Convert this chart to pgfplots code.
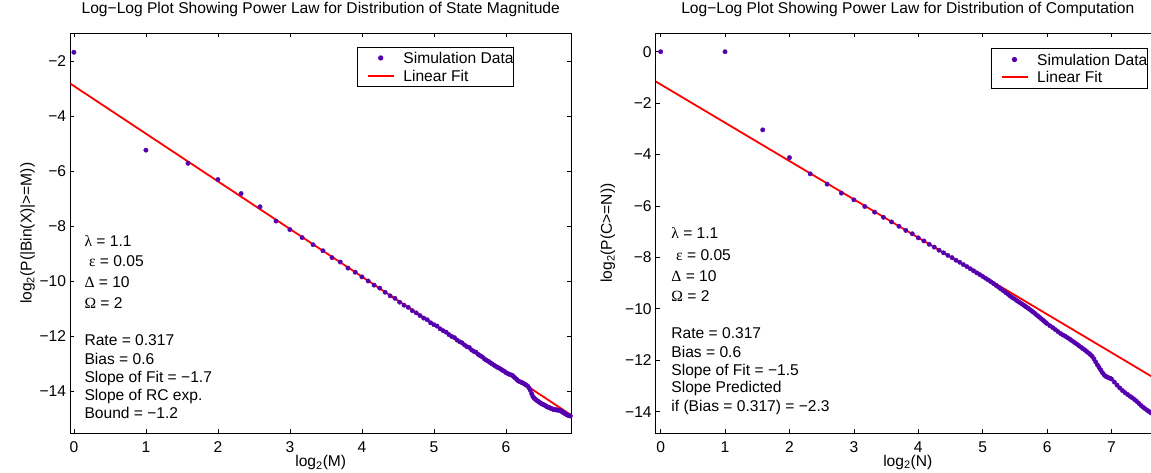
\documentclass[border=0pt]{standalone}
\usepackage{fontspec}
\setmainfont{Liberation Sans}
\newfontfamily\grk{Liberation Serif}
\usepackage{pgfplots}
\pgfplotsset{compat=1.18}
\definecolor{purp}{RGB}{85,0,175}
\definecolor{fitred}{RGB}{255,0,0}
\newcommand{\fs}{\fontsize{15.6}{18}\selectfont}
\pgfplotsset{mstyle/.style={
  scale only axis,
  axis line style={line width=0.9pt, black},
  every tick/.style={black, line width=0.7pt},
  major tick length=4pt,
  tick align=inside,
  xtick pos=both, ytick pos=both,
  xticklabel pos=lower, yticklabel pos=left,
  ticklabel style={font=\fs, inner sep=0pt},
  xticklabel style={yshift=-8.4pt},
  yticklabel style={xshift=-4pt},
  label style={font=\fs, inner sep=0pt},
  title style={font=\fs, inner sep=0pt, at={([yshift=10pt]axis description cs:0.5,1)}, anchor=south},
  xlabel style={at={([yshift=-21.7pt]axis description cs:0.5,0)}, anchor=north},
  legend style={draw=black, line width=0.8pt, inner xsep=0pt, inner ysep=2pt, font=\fs,
    nodes={inner sep=0pt, text height=14.45pt, text depth=3.25pt}, row sep=0pt},
  legend cell align=left,
  clip=true,
}}
\pgfplotsset{
  dotimg/.style={legend image code/.code={\path (0pt,0pt) (44.3pt,0pt);
     \draw[mark repeat=2,mark phase=2,##1] plot coordinates {(0pt,0pt) (22.5pt,0pt) (44pt,0pt)};}},
  lineimg/.style={legend image code/.code={\path (0pt,0pt) (44.3pt,0pt);
     \draw[##1] (10pt,0pt) -- (35.8pt,0pt);}},
}
\begin{document}
\begin{tikzpicture}
% ---------------- left axis ----------------
\begin{axis}[mstyle,
  at={(70.3pt,38.7pt)}, anchor=south west,
  width=500.9pt, height=400pt,
  xmin=-0.05, xmax=6.907, ymin=-15.54, ymax=-0.99,
  xtick={0,1,2,3,4,5,6}, xticklabels={0,1,2,3,4,5,6},
  ytick={-14,-12,-10,-8,-6,-4,-2}, yticklabels={−14,−12,−10,−8,−6,−4,−2},
  title={Log−Log Plot Showing Power Law for Distribution of State Magnitude},
  xlabel={log\textsubscript{2}(M)},
  ylabel={log\textsubscript{2}(P(|Bin(X)|>=M))},
  ylabel style={at={([xshift=-35.2pt]axis description cs:0,0.5)}, anchor=south},
  legend style={at={(0.8857,0.9665)}, anchor=north east},
]
\addplot[only marks, mark=*, mark size=2.2pt, color=purp, dotimg] coordinates {
(0,-1.68) (1,-5.24) (1.585,-5.72) (2,-6.31) (2.322,-6.82) (2.585,-7.30) (2.807,-7.82) (3,-8.13)
(3.170,-8.42) (3.322,-8.68) (3.459,-8.90) (3.585,-9.15) (3.700,-9.31) (3.807,-9.53) (3.907,-9.68)
(4,-9.85) (4.087,-10.00) (4.170,-10.15) (4.248,-10.26) (4.322,-10.41) (4.392,-10.54) (4.459,-10.63)
(4.524,-10.77) (4.585,-10.88) (4.644,-10.96) (4.700,-11.08) (4.755,-11.16) (4.807,-11.26) (4.858,-11.35)
(4.907,-11.41) (4.954,-11.52) (5,-11.59) (5.044,-11.64) (5.087,-11.74) (5.129,-11.81) (5.170,-11.86)
(5.209,-11.95) (5.248,-12.02) (5.285,-12.06) (5.322,-12.15) (5.358,-12.21) (5.392,-12.25) (5.426,-12.33)
(5.459,-12.39) (5.492,-12.42) (5.524,-12.51) (5.555,-12.56) (5.585,-12.59) (5.615,-12.67) (5.644,-12.72)
(5.672,-12.76) (5.700,-12.83) (5.728,-12.88) (5.755,-12.92) (5.781,-12.97) (5.807,-13.01) (5.833,-13.06)
(5.858,-13.10) (5.883,-13.14) (5.907,-13.17) (5.931,-13.21) (5.954,-13.25) (5.977,-13.28) (6,-13.33)
(6.022,-13.36) (6.044,-13.39) (6.066,-13.41) (6.087,-13.43) (6.109,-13.48) (6.129,-13.53) (6.150,-13.58)
(6.170,-13.63) (6.190,-13.66) (6.209,-13.68) (6.229,-13.70) (6.248,-13.73) (6.267,-13.76) (6.285,-13.79)
(6.304,-13.83) (6.322,-13.89) (6.340,-13.98) (6.358,-14.10) (6.375,-14.20) (6.392,-14.26) (6.409,-14.30)
(6.426,-14.34) (6.443,-14.37) (6.459,-14.40) (6.476,-14.43) (6.492,-14.46) (6.508,-14.48) (6.524,-14.50)
(6.539,-14.52) (6.555,-14.55) (6.570,-14.57) (6.585,-14.59) (6.600,-14.60) (6.615,-14.62) (6.629,-14.64)
(6.644,-14.65) (6.658,-14.67) (6.672,-14.68) (6.687,-14.68) (6.700,-14.69) (6.714,-14.69) (6.728,-14.70)
(6.741,-14.70) (6.755,-14.71) (6.768,-14.73) (6.781,-14.76) (6.794,-14.78) (6.807,-14.80) (6.820,-14.82)
(6.833,-14.84) (6.845,-14.86) (6.858,-14.88) (6.870,-14.89) (6.883,-14.90) (6.895,-14.91)
};
\addlegendentry{Simulation Data\hspace{9.2pt}}
\addplot[color=fitred, line width=1.8pt, lineimg] coordinates {(-0.05,-2.82) (6.907,-14.88)};
\addlegendentry{Linear Fit}
\end{axis}
% ---------------- right axis ----------------
\begin{axis}[mstyle,
  at={(655.8pt,39pt)}, anchor=south west,
  width=504pt, height=399.7pt,
  xmin=-0.075, xmax=7.75, ymin=-14.83, ymax=0.716,
  xtick={0,1,2,3,4,5,6,7}, xticklabels={0,1,2,3,4,5,6,7},
  ytick={-14,-12,-10,-8,-6,-4,-2,0}, yticklabels={−14,−12,−10,−8,−6,−4,−2,0},
  title={Log−Log Plot Showing Power Law for Distribution of Computation},
  xlabel={log\textsubscript{2}(N)},
  ylabel={log\textsubscript{2}(P(C>=N))},
  ylabel style={at={([xshift=-40.4pt]axis description cs:0,0.5)}, anchor=south},
  legend style={at={(0.976,0.9625)}, anchor=north east},
]
\addplot[only marks, mark=*, mark size=2.2pt, color=purp, dotimg] coordinates {
(0,0) (1,0) (1.585,-3.04) (2,-4.12) (2.322,-4.75) (2.585,-5.15) (2.807,-5.50) (3,-5.76)
(3.170,-6.02) (3.322,-6.24) (3.459,-6.44) (3.585,-6.62) (3.700,-6.79) (3.807,-6.95) (3.907,-7.08)
(4,-7.24) (4.087,-7.36) (4.170,-7.49) (4.248,-7.60) (4.322,-7.72) (4.392,-7.82) (4.459,-7.92)
(4.524,-8.01) (4.585,-8.11) (4.644,-8.19) (4.700,-8.28) (4.755,-8.36) (4.807,-8.44) (4.858,-8.52)
(4.907,-8.60) (4.954,-8.67) (5,-8.74) (5.044,-8.81) (5.087,-8.88) (5.129,-8.95) (5.170,-9.02)
(5.209,-9.09) (5.248,-9.16) (5.285,-9.23) (5.322,-9.30) (5.358,-9.37) (5.392,-9.43) (5.426,-9.50)
(5.459,-9.56) (5.492,-9.61) (5.524,-9.67) (5.555,-9.72) (5.585,-9.77) (5.615,-9.82) (5.644,-9.87)
(5.672,-9.92) (5.700,-9.97) (5.728,-10.02) (5.755,-10.07) (5.781,-10.12) (5.807,-10.17) (5.833,-10.23)
(5.858,-10.28) (5.883,-10.33) (5.907,-10.38) (5.931,-10.43) (5.954,-10.48) (5.977,-10.53) (6,-10.58)
(6.044,-10.66) (6.087,-10.73) (6.129,-10.81) (6.170,-10.89) (6.209,-10.96) (6.248,-11.02) (6.285,-11.07)
(6.322,-11.13) (6.358,-11.19) (6.392,-11.25) (6.426,-11.31) (6.459,-11.37) (6.492,-11.43) (6.524,-11.49)
(6.555,-11.55) (6.585,-11.60) (6.615,-11.66) (6.644,-11.72) (6.672,-11.78) (6.700,-11.85) (6.728,-11.95)
(6.755,-12.07) (6.781,-12.18) (6.807,-12.28) (6.833,-12.38) (6.858,-12.48) (6.883,-12.56) (6.907,-12.62)
(6.931,-12.65) (6.954,-12.68) (6.977,-12.70) (7,-12.73) (7.044,-12.85) (7.087,-12.97) (7.129,-13.08)
(7.170,-13.18) (7.209,-13.26) (7.248,-13.33) (7.285,-13.40) (7.322,-13.46) (7.358,-13.53) (7.392,-13.60)
(7.426,-13.68) (7.459,-13.76) (7.492,-13.83) (7.524,-13.89) (7.555,-13.95) (7.585,-14.00) (7.615,-14.05)
(7.644,-14.10) (7.672,-14.14) (7.700,-14.18) (7.728,-14.22)
};
\addlegendentry{Simulation Data\hspace{9.2pt}}
\addplot[color=fitred, line width=1.8pt, lineimg] coordinates {(-0.075,-1.16) (7.75,-12.82)};
\addlegendentry{Linear Fit}
\end{axis}
% ---------------- annotations ----------------
\begin{scope}[every node/.style={anchor=base west, font=\fs, inner sep=0pt}]
\node at (84.3pt,225.7pt) {{\grk λ} = 1.1};
\node at (88.8pt,205.7pt) {{\grk ε} = 0.05};
\node at (84.3pt,184.7pt) {{\grk Δ} = 10};
\node at (84.3pt,163.7pt) {{\grk Ω} = 2};
\node at (84.3pt,126.4pt) {Rate = 0.317};
\node at (84.3pt,107.1pt) {Bias = 0.6};
\node at (84.3pt,89.1pt) {Slope of Fit = −1.7};
\node at (84.3pt,71.4pt) {Slope of RC exp.};
\node at (84.3pt,53.7pt) {Bound = −1.2};
\node at (671.2pt,233.1pt) {{\grk λ} = 1.1};
\node at (676pt,211.4pt) {{\grk ε} = 0.05};
\node at (671.2pt,190.4pt) {{\grk Δ} = 10};
\node at (671.2pt,170.4pt) {{\grk Ω} = 2};
\node at (671.2pt,133.1pt) {Rate = 0.317};
\node at (671.2pt,114.7pt) {Bias = 0.6};
\node at (671.2pt,96.4pt) {Slope of Fit = −1.5};
\node at (671.2pt,79.1pt) {Slope Predicted};
\node at (671.2pt,60.4pt) {if (Bias = 0.317) = −2.3};
\end{scope}
\pgfresetboundingbox
\useasboundingbox (0pt,0pt) rectangle (1151pt,472pt);
\end{tikzpicture}
\end{document}
